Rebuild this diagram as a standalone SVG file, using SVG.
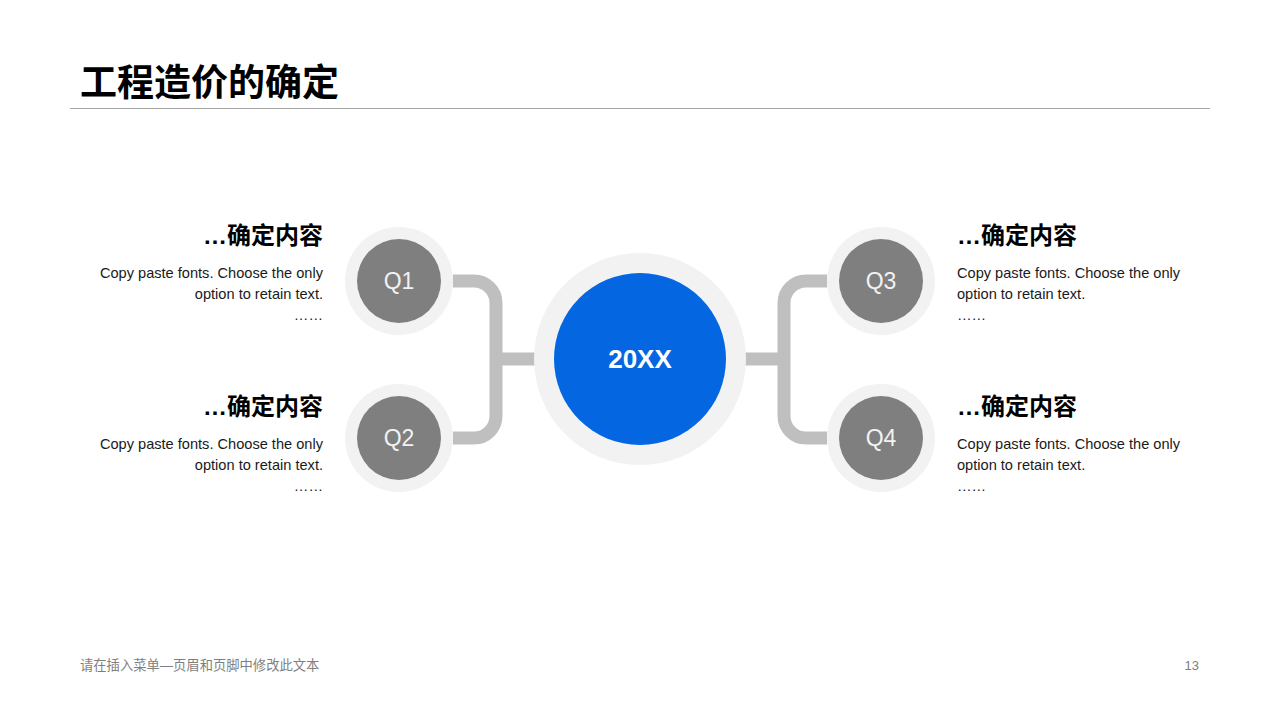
<svg xmlns="http://www.w3.org/2000/svg" width="1280" height="720" viewBox="0 0 1280 720">
<style>
.ring{fill:#F2F2F2}
.q{fill:#7F7F7F}
.ql{font-family:"Liberation Sans",Arial,sans-serif;font-size:23px;fill:#F2F2F2;text-anchor:middle}
.conn{fill:none;stroke:#BFBFBF;stroke-width:13}
.h{font-family:"Liberation Sans","Noto Sans CJK SC",sans-serif;font-size:24px;font-weight:bold;fill:#000}
.b{font-family:"Liberation Sans",Arial,sans-serif;font-size:14.6px;fill:#1A1A1A}
.r{text-anchor:end}
</style>
<rect width="1280" height="720" fill="#FFFFFF"/>
<text x="80" y="96" font-family="'Liberation Sans','Noto Sans CJK SC',sans-serif" font-size="37" font-weight="bold" fill="#000">工程造价的确定</text>
<line x1="70" y1="108.5" x2="1210" y2="108.5" stroke="#A6A6A6" stroke-width="1"/>
<g id="connectors">
<path class="conn" d="M453,281 H474 A22,22 0 0 1 496,303 V416 A22,22 0 0 1 474,438 H453"/>
<path class="conn" d="M496,359 H540"/>
<path class="conn" d="M827,281 H806 A22,22 0 0 0 784,303 V416 A22,22 0 0 0 806,438 H827"/>
<path class="conn" d="M784,359 H740"/>
</g>
<g id="center">
<circle class="ring" cx="640" cy="359" r="106"/>
<circle cx="640" cy="359" r="86" fill="#0466E1"/>
<text x="640" y="368" font-family="'Liberation Sans',Arial,sans-serif" font-size="26" font-weight="bold" fill="#FFFFFF" text-anchor="middle">20XX</text>
</g>
<g id="q1">
<circle class="ring" cx="399" cy="281" r="54"/>
<circle class="q" cx="399" cy="281" r="42"/>
<text class="ql" x="399" y="289">Q1</text>
</g>
<g id="q2">
<circle class="ring" cx="399" cy="438" r="54"/>
<circle class="q" cx="399" cy="438" r="42"/>
<text class="ql" x="399" y="446">Q2</text>
</g>
<g id="q3">
<circle class="ring" cx="881" cy="281" r="54"/>
<circle class="q" cx="881" cy="281" r="42"/>
<text class="ql" x="881" y="289">Q3</text>
</g>
<g id="q4">
<circle class="ring" cx="881" cy="438" r="54"/>
<circle class="q" cx="881" cy="438" r="42"/>
<text class="ql" x="881" y="446">Q4</text>
</g>
<g id="text-q1">
<text class="h r" x="323" y="244">…确定内容</text>
<text class="b r" x="323" y="278">Copy paste fonts. Choose the only</text>
<text class="b r" x="323" y="299">option to retain text.</text>
<text class="b r" x="323" y="320">……</text>
</g>
<g id="text-q2">
<text class="h r" x="323" y="415">…确定内容</text>
<text class="b r" x="323" y="449">Copy paste fonts. Choose the only</text>
<text class="b r" x="323" y="470">option to retain text.</text>
<text class="b r" x="323" y="491">……</text>
</g>
<g id="text-q3">
<text class="h" x="957" y="244">…确定内容</text>
<text class="b" x="957" y="278">Copy paste fonts. Choose the only</text>
<text class="b" x="957" y="299">option to retain text.</text>
<text class="b" x="957" y="320">……</text>
</g>
<g id="text-q4">
<text class="h" x="957" y="415">…确定内容</text>
<text class="b" x="957" y="449">Copy paste fonts. Choose the only</text>
<text class="b" x="957" y="470">option to retain text.</text>
<text class="b" x="957" y="491">……</text>
</g>
<text x="80" y="670" font-family="'Liberation Sans','Noto Sans CJK SC',sans-serif" font-size="13.3" fill="#7F7F7F">请在插入菜单—页眉和页脚中修改此文本</text>
<text x="1199" y="670" font-family="'Liberation Sans',Arial,sans-serif" font-size="13" fill="#7F7F7F" text-anchor="end">13</text>
</svg>
